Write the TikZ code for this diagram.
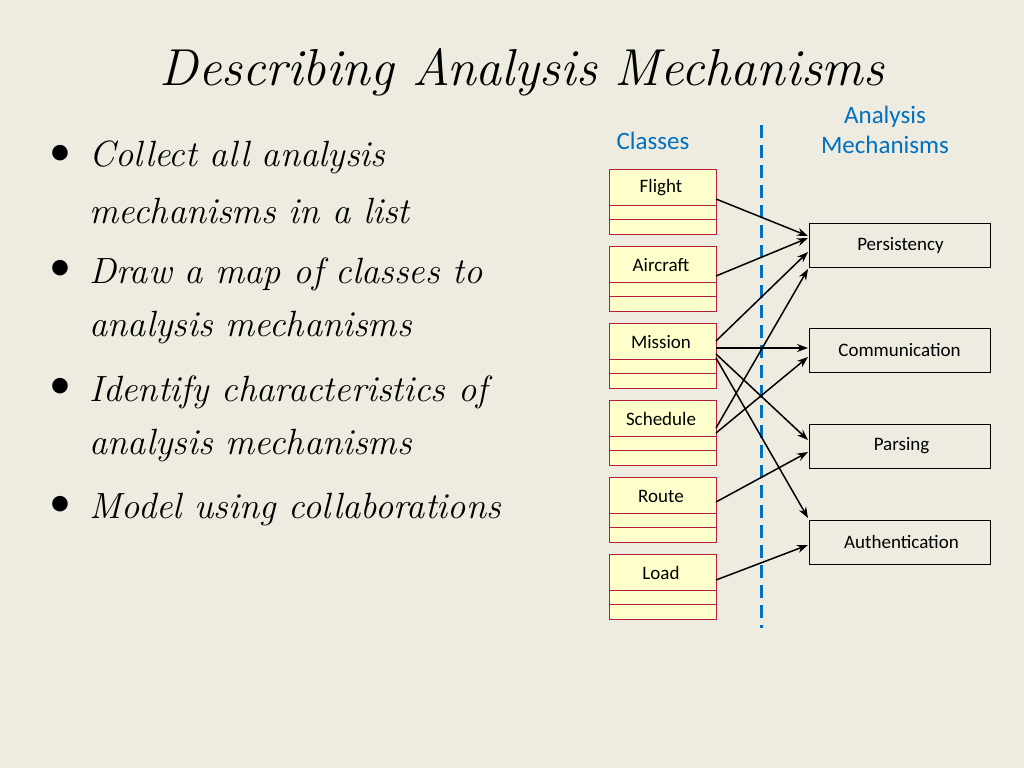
\documentclass[tikz,border=0pt]{standalone}
\usepackage{fontspec}
\setmainfont{Carlito}
\newfontfamily\scriptf{Latin Modern Roman}
\usetikzlibrary{arrows.meta}
\definecolor{bg}{RGB}{238,236,225}
\definecolor{mblue}{RGB}{0,112,192}
\definecolor{cls}{RGB}{255,255,204}
\definecolor{clsb}{RGB}{180,30,60}
\begin{document}
\begin{tikzpicture}[x=1pt,y=-1pt,
  cbox/.style={draw=clsb,fill=cls,line width=0.9pt},
  mbox/.style={draw=black,fill=bg,line width=1pt,minimum width=181pt,minimum height=44pt,font=\fontsize{19}{21}\selectfont},
  arr/.style={-{Stealth[length=11pt,width=8pt]},line width=1.5pt},
  bul/.style={anchor=west,font=\scriptf\itshape\fontsize{36.5}{40}\selectfont}]
\fill[bg] (0,0) rectangle (1024,768);
\useasboundingbox (0,0) rectangle (1024,768);
\node[font=\scriptf\itshape\fontsize{52}{56}\selectfont] (title) at (522,72) {Describing Analysis Mechanisms};
\foreach \t/\yy in {1/155,2/270,3/388,4/506}{\node[font=\fontsize{44}{44}\selectfont] (b\t) at (60,\yy) {\textbullet};}
\node[bul] (l1) at (86,157) {Collect all analysis};
\node[bul] (l1b) at (86,211) {mechanisms in a list};
\node[bul] (l2) at (86,274) {Draw a map of classes to};
\node[bul] (l2b) at (86,328) {analysis mechanisms};
\node[bul] (l3) at (86,392) {Identify characteristics of};
\node[bul] (l3b) at (86,446) {analysis mechanisms};
\node[bul] (l4) at (86,510) {Model using collaborations};
\node[text=mblue,font=\fontsize{25}{28}\selectfont] (hc) at (653,141) {Classes};
\node[text=mblue,font=\fontsize{25}{30}\selectfont,align=center] (hm) at (885,130) {Analysis\\Mechanisms};
\draw[mblue,line width=3pt,dash pattern=on 13pt off 7pt] (761,125) coordinate (d1) -- (761,628) coordinate (d2);
\foreach \n/\txt/\yy in {flight/Flight/169,aircraft/Aircraft/246,mission/Mission/323,schedule/Schedule/400,route/Route/477,load/Load/554}{
  \draw[cbox] (609,\yy) rectangle (716,\yy+65);
  \draw[clsb,line width=0.8pt] (609,\yy+36) -- (716,\yy+36) (609,\yy+50) -- (716,\yy+50);
  \node[font=\fontsize{19}{21}\selectfont] (\n) at (661,\yy+19) {\txt};
}
\node[mbox] (pers) at (899.5,245) {\hspace*{2pt}Persistency};
\node[mbox] (comm) at (899.5,350) {Communication};
\node[mbox] (pars) at (899.5,446) {\hspace*{4pt}Parsing};
\node[mbox] (auth) at (899.5,542) {\hspace*{4pt}Authentication};
\draw[arr] (716,199) -- (808,236);
\draw[arr] (716,276) -- (808,238);
\draw[arr] (716,341) -- (808,252);
\draw[arr] (716,428) -- (808,269);
\draw[arr] (716,348) -- (808,348);
\draw[arr] (716,433) -- (808,357);
\draw[arr] (716,354) -- (808,440);
\draw[arr] (716,358) -- (808,518);
\draw[arr] (716,502) -- (808,452);
\draw[arr] (716,580) -- (808,545);
\end{tikzpicture}
\end{document}
